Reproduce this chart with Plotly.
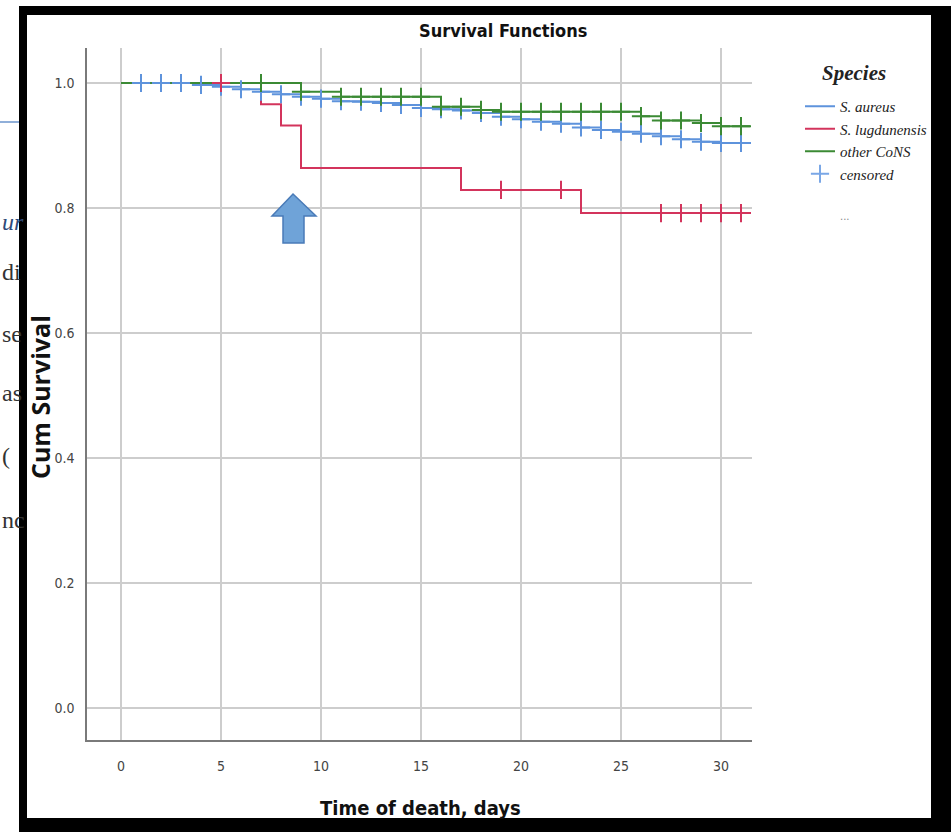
import plotly.graph_objects as go

# ---- Kaplan-Meier estimates by species (value of S(t) from day t onwards) ----
days = list(range(0, 32)) + [31.5]

aureus_surv = [1.0, 1.0, 1.0, 1.0, 0.997, 0.994, 0.990, 0.986, 0.982, 0.978,
               0.975, 0.971, 0.970, 0.968, 0.965, 0.960, 0.958, 0.956, 0.952, 0.946,
               0.942, 0.938, 0.935, 0.929, 0.925, 0.922, 0.919, 0.915, 0.910, 0.906,
               0.904, 0.904, 0.904]
aureus_censored = list(range(1, 32))

lugdunensis_surv = [1.0, 1.0, 1.0, 1.0, 1.0, 1.0, 1.0, 0.966, 0.932, 0.864,
                    0.864, 0.864, 0.864, 0.864, 0.864, 0.864, 0.864, 0.829, 0.829, 0.829,
                    0.829, 0.829, 0.829, 0.792, 0.792, 0.792, 0.792, 0.792, 0.792, 0.792,
                    0.792, 0.792, 0.792]
lugdunensis_censored = [5, 19, 22, 27, 28, 29, 30, 31]

cons_surv = [1.0, 1.0, 1.0, 1.0, 1.0, 1.0, 1.0, 1.0, 1.0, 0.986,
             0.986, 0.978, 0.978, 0.978, 0.978, 0.978, 0.962, 0.962, 0.957, 0.954,
             0.954, 0.954, 0.954, 0.954, 0.954, 0.954, 0.947, 0.940, 0.940, 0.936,
             0.931, 0.931, 0.931]
cons_censored = [7, 9] + list(range(11, 32))

series_names = ["S. aureus", "S. lugdunensis", "other CoNS"]
series_colors = ["#5e93dc", "#d3345c", "#3b8a34"]
x_ticks = [0, 5, 10, 15, 20, 25, 30]
y_ticks = [0.0, 0.2, 0.4, 0.6, 0.8, 1.0]

# Fragments of the surrounding page text left of the frame
side_text = ["ur", "di", "se", "as", "(", "nc"]

# ---- canvas geometry ----
W, H = 951, 832
PL, PR, PT, PB = 87, 752, 48, 740  # plot area in pixels


def px(x):
    return (x - PL) / (PR - PL)


def py(y):
    return (PB - y) / (PB - PT)


fig = go.Figure()

curves = [
    (aureus_surv, aureus_censored),
    (lugdunensis_surv, lugdunensis_censored),
    (cons_surv, cons_censored),
]
for i, (surv, cens) in enumerate(curves):
    fig.add_trace(go.Scatter(
        x=days, y=surv, mode="lines", name=series_names[i],
        line=dict(color=series_colors[i], width=2, shape="hv"),
        hoverinfo="skip",
    ))
for i, (surv, cens) in enumerate(curves):
    lookup = dict(zip(days, surv))
    fig.add_trace(go.Scatter(
        x=cens, y=[lookup[t] for t in cens], mode="markers", showlegend=False,
        marker=dict(symbol="cross-thin", size=13,
                    line=dict(color=series_colors[i], width=2)),
        hoverinfo="skip",
    ))
# legend entry for censoring marks
fig.add_trace(go.Scatter(
    x=[None], y=[None], mode="markers", name="censored",
    marker=dict(symbol="cross-thin", size=13, line=dict(color="#7aa7e6", width=2)),
))

narrow = "Liberation Sans Narrow, DejaVu Sans Condensed, Arial Narrow, sans-serif"
serif = "Liberation Serif, Times New Roman, serif"

fig.update_layout(
    width=W, height=H,
    margin=dict(l=PL, r=W - PR, t=PT, b=H - PB),
    paper_bgcolor="white", plot_bgcolor="white",
    showlegend=True,
    legend=dict(
        x=px(800), y=py(90), xanchor="left", yanchor="top",
        font=dict(family=serif, size=15, color="#222", style="italic"),
        itemwidth=30, tracegroupgap=0, bgcolor="rgba(0,0,0,0)",
    ),
    xaxis=dict(
        range=[-1.7, 31.55], tickvals=x_ticks, ticktext=[str(v) for v in x_ticks],
        showgrid=True, gridcolor="#cdcdcd", gridwidth=1.5,
        showline=True, linecolor="#7a7a7a", linewidth=2,
        zeroline=False, ticks="", ticklabelstandoff=12,
        tickfont=dict(family=narrow, size=14, color="#444"),
    ),
    yaxis=dict(
        range=[-0.051, 1.056], tickvals=y_ticks, ticktext=[f"{v:.1f}" for v in y_ticks],
        showgrid=True, gridcolor="#cdcdcd", gridwidth=1.5,
        showline=True, linecolor="#7a7a7a", linewidth=1.5,
        zeroline=False, ticks="", ticklabelstandoff=8,
        tickfont=dict(family=narrow, size=14, color="#444"),
    ),
)

annotations = [
    dict(text="<b>Survival Functions</b>", x=px(503), y=py(30),
         font=dict(family=narrow, size=18, color="#111")),
    dict(text="<b>Time of death, days</b>", x=px(420), y=py(808),
         font=dict(family=narrow, size=20, color="#111")),
    dict(text="<b>Cum Survival</b>", x=px(40), y=py(397), textangle=-90,
         font=dict(family="Open Sans, DejaVu Sans, sans-serif", size=25, color="#111")),
    dict(text="<b><i>Species</i></b>", x=px(854), y=py(73),
         font=dict(family=serif, size=21, color="#222")),
    dict(text="...", x=px(845), y=py(216),
         font=dict(family="DejaVu Sans, sans-serif", size=10, color="#888")),
]
for a in annotations:
    a.update(xref="paper", yref="paper", xanchor="center", yanchor="middle", showarrow=False)

side_y = [222, 272, 334, 393, 456, 520]
for txt, yy in zip(side_text, side_y):
    italic = txt == "ur"
    annotations.append(dict(
        text=f"<i>{txt}</i>" if italic else txt, x=px(0), y=py(yy),
        xref="paper", yref="paper", xanchor="left", yanchor="middle", showarrow=False,
        font=dict(family="Liberation Serif, DejaVu Serif, serif", size=24,
                  color="#2f4a78" if italic else "#333"),
    ))
fig.update_layout(annotations=annotations)

shapes = []
# page rule left of frame
shapes.append(dict(type="line", xref="paper", yref="paper", x0=px(0), x1=px(19),
                   y0=py(122), y1=py(122), line=dict(color="#6b95cc", width=1.5)))
# black frame around the figure
for x0, y0, x1, y1 in [(19, 6, 951, 15), (19, 6, 27, 832), (931, 6, 951, 832), (19, 818, 951, 832)]:
    shapes.append(dict(type="rect", xref="paper", yref="paper",
                       x0=px(x0), x1=px(x1), y0=py(y1), y1=py(y0),
                       fillcolor="black", line=dict(width=0), layer="above"))
# block arrow pointing at the day-9 drop
arrow_pts = [(293, 194), (316, 216), (304, 216), (304, 243), (283, 243), (283, 216), (272, 216)]
path = "M " + " L ".join(f"{px(a):.5f},{py(b):.5f}" for a, b in arrow_pts) + " Z"
shapes.append(dict(type="path", xref="paper", yref="paper", path=path,
                   fillcolor="#6fa3d8", line=dict(color="#4a7bb8", width=1.5), layer="above"))
fig.update_layout(shapes=shapes)

fig.write_html("out.html")
